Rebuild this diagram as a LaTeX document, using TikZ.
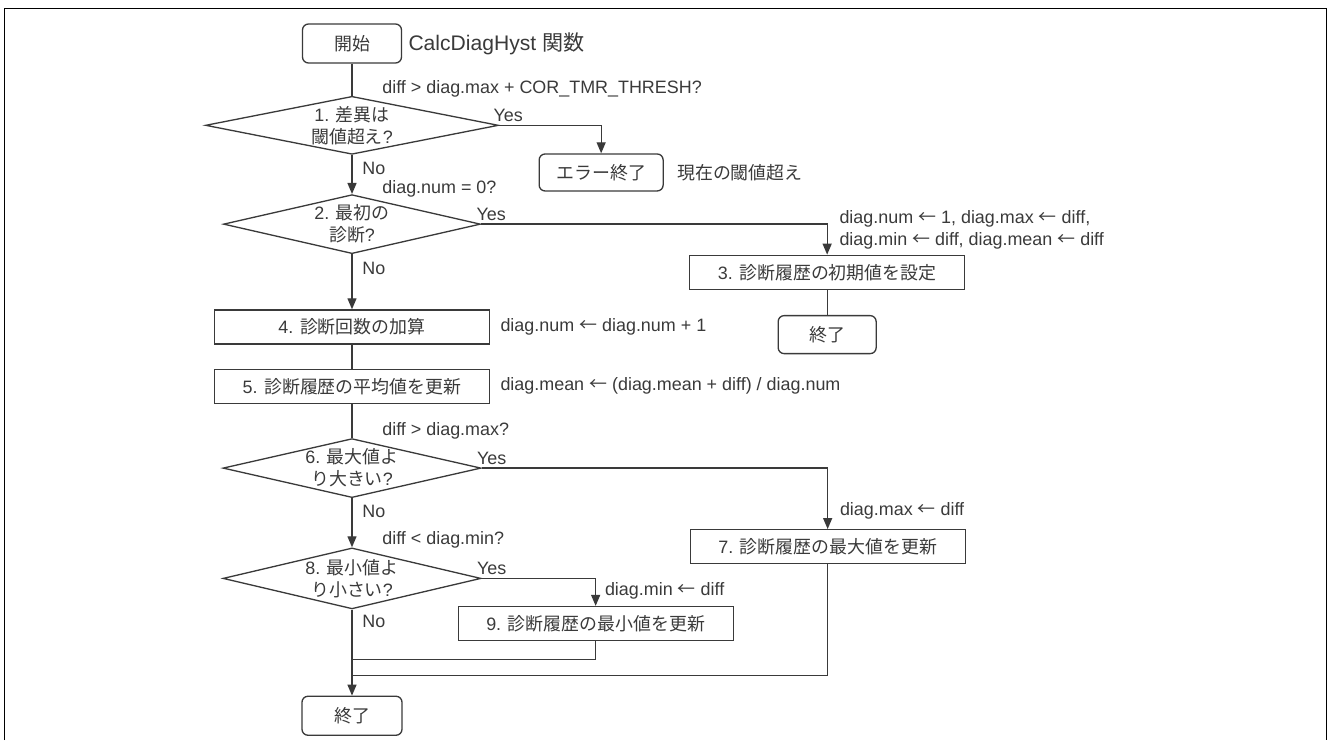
\documentclass[tikz,border=0pt]{standalone}
\usepackage{fontspec}
\setmainfont{Liberation Sans}
\newfontfamily\jpfont{Noto Sans CJK JP}
\usepackage{tikz}
\usetikzlibrary{shapes.geometric, arrows.meta, positioning}
\definecolor{ink}{HTML}{3A3A3A}
\newcommand{\bodyfs}{\fontsize{10.2}{12.5}\selectfont}
\newcommand{\titlefs}{\fontsize{12}{14}\selectfont}
\newcommand{\getsarrow}{{\jpfont ←}}

\begin{document}
\begin{tikzpicture}[
    every node/.style={font=\bodyfs, text=ink},
    term/.style={draw=ink, line width=0.75pt, rectangle, rounded corners=3.4pt, minimum width=1.98cm, minimum height=0.78cm},
    box/.style={draw=ink, line width=0.75pt, rectangle, minimum width=5.5cm, minimum height=0.68cm},
    dec/.style={draw=ink, line width=0.75pt, diamond, inner sep=0pt},
    dtext/.style={align=center, inner sep=0pt},
    note/.style={inner sep=0pt, align=left},
    line/.style={draw=ink, line width=0.75pt},
    arr/.style={line, -{Triangle[length=2.2mm,width=1.8mm]}}
]
\useasboundingbox (0,0) rectangle (26.6,-14.8);

% Frame
\draw[line width=1.1pt] (0.09,-14.8) |- (26.53,-0.17) -- (26.53,-14.8);

% Start
\node[term] (start) at (7.04,-0.87) {{\jpfont 開始}};
\node[note, font=\titlefs, right=0.12cm of start] (title) {CalcDiagHyst {\jpfont 関数}};

% 1. threshold check
\node[dec, minimum width=5.86cm, minimum height=1.16cm, below=0.64cm of start,
      label={[dtext]center:{1. {\jpfont 差異は}\\{\jpfont 閾値超え}?}}] (d1) {};
\node[note, right=0.6cm of d1.north, yshift=0.14cm] (cond1) {diff > diag.max + COR\_TMR\_THRESH?};
\node[note, right=-0.12cm of d1.east, yshift=0.2cm] (yes1) {Yes};
\node[note, right=0.2cm of d1.south, yshift=-0.26cm] (no1) {No};

% Error exit
\node[term, minimum width=2.48cm, minimum height=0.74cm, below=0.56cm of d1.east, xshift=2.04cm] (err) {{\jpfont エラー終了}};
\node[note, right=0.26cm of err] (errnote) {{\jpfont 現在の閾値超え}};

% 2. first diagnosis
\node[dec, minimum width=5.14cm, minimum height=1.18cm, below=0.78cm of d1,
      label={[dtext]center:{2. {\jpfont 最初の}\\{\jpfont 診断}?}}] (d2) {};
\node[note, right=0.6cm of d2.north, yshift=0.1cm] (cond2) {diag.num = 0?};
\node[note, right=-0.1cm of d2.east, yshift=0.2cm] (yes2) {Yes};
\node[note, right=0.2cm of d2.south, yshift=-0.28cm] (no2) {No};

% 3. initial values
\node[box, below=0.61cm of d2.east, xshift=6.92cm] (init) {3. {\jpfont 診断履歴の初期値を設定}};
\node[note, right=0.24cm of init.north, yshift=0.49cm] (initnote) {diag.num \getsarrow{} 1, diag.max \getsarrow{} diff,\\diag.min \getsarrow{} diff, diag.mean \getsarrow{} diff};
\node[term, minimum width=1.96cm, minimum height=0.76cm, below=0.5cm of init] (end1) {{\jpfont 終了}};

% 4. / 5. counters
\node[box, below=1.1cm of d2] (inc) {4. {\jpfont 診断回数の加算}};
\node[note, right=0.2cm of inc] (incnote) {diag.num \getsarrow{} diag.num + 1};
\node[box, below=0.48cm of inc] (mean) {5. {\jpfont 診断履歴の平均値を更新}};
\node[note, right=0.2cm of mean] (meannote) {diag.mean \getsarrow{} (diag.mean + diff) / diag.num};

% 6. max check
\node[dec, minimum width=5.16cm, minimum height=1.18cm, below=0.68cm of mean,
      label={[dtext]center:{6. {\jpfont 最大値よ}\\{\jpfont り大きい}?}}] (d6) {};
\node[note, right=0.6cm of d6.north, yshift=0.14cm] (cond6) {diff > diag.max?};
\node[note, right=-0.1cm of d6.east, yshift=0.2cm] (yes6) {Yes};
\node[note, right=0.2cm of d6.south, yshift=-0.26cm] (no6) {No};

% 7. update max
\node[box, below=1.22cm of d6.east, xshift=6.92cm] (max) {7. {\jpfont 診断履歴の最大値を更新}};
\node[note, right=0.24cm of max.north, yshift=0.36cm] (maxnote) {diag.max \getsarrow{} diff};

% 8. min check
\node[dec, minimum width=5.16cm, minimum height=1.22cm, below=0.98cm of d6,
      label={[dtext]center:{8. {\jpfont 最小値よ}\\{\jpfont り小さい}?}}] (d8) {};
\node[note, right=0.6cm of d8.north, yshift=0.14cm] (cond8) {diff < diag.min?};
\node[note, right=-0.1cm of d8.east, yshift=0.2cm] (yes8) {Yes};
\node[note, right=0.2cm of d8.south, yshift=-0.24cm] (no8) {No};

% 9. update min
\node[box, below=0.55cm of d8.east, xshift=2.28cm] (min) {9. {\jpfont 診断履歴の最小値を更新}};
\node[note, right=0.18cm of min.north, yshift=0.3cm] (minnote) {diag.min \getsarrow{} diff};

% End
\node[term, minimum width=2cm, below=1.72cm of d8] (end2) {{\jpfont 終了}};

% Merge points
\coordinate[below=0.36cm of min.south] (j1);
\coordinate[below=2.22cm of max.south] (j2);

% Arrows
\draw[line] (start) -- (d1);
\draw[arr] (d1) -- (d2);
\draw[arr] (d1.east) -| (err.north);
\draw[arr] (d2.east) -| (init.north);
\draw[line] (init) -- (end1);
\draw[arr] (d2) -- (inc);
\draw[line] (inc) -- (mean);
\draw[line] (mean) -- (d6);
\draw[arr] (d6.east) -| (max.north);
\draw[arr] (d6) -- (d8);
\draw[arr] (d8.east) -| (min.north);
\draw[arr] (d8) -- (end2);
\draw[line] (min.south) |- (d8.south |- j1);
\draw[line] (max.south) |- (d8.south |- j2);

\end{tikzpicture}
\end{document}
